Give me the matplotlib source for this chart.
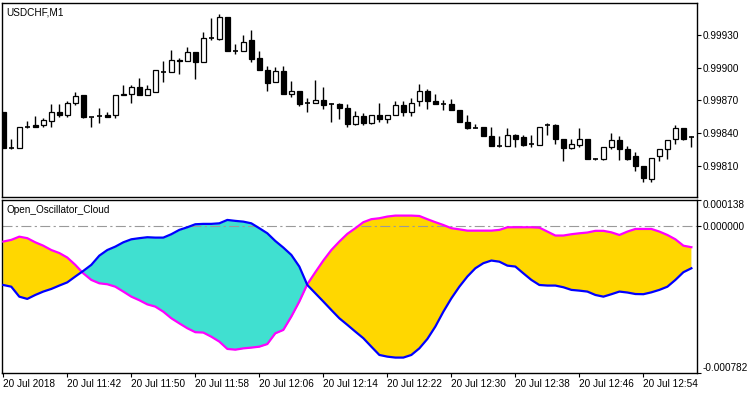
import numpy as np
import matplotlib
matplotlib.use("Agg")
import matplotlib.pyplot as plt
from matplotlib.patches import Rectangle

# USDCHF M1 candles, 11:34 .. 13:00
opens = [0.99859, 0.99826, 0.99826, 0.99846, 0.99847, 0.99847, 0.99851, 0.99859, 0.99857, 0.99868,
         0.99875, 0.99855, 0.99856, 0.99857, 0.99857, 0.99875, 0.99876, 0.99882, 0.99875, 0.99878,
         0.99896, 0.99896, 0.99907, 0.99906, 0.99914, 0.99905, 0.99927, 0.99926, 0.99947, 0.99915,
         0.99915, 0.99925, 0.99909, 0.99898, 0.99887, 0.99897, 0.99876, 0.99879, 0.99868, 0.99868,
         0.99870, 0.99867, 0.99867, 0.99863, 0.99848, 0.99856, 0.99849, 0.99857, 0.99853, 0.99857,
         0.99866, 0.99859, 0.99869, 0.99879, 0.99869, 0.99867, 0.99867, 0.99861, 0.99850, 0.99845,
         0.99846, 0.99837, 0.99828, 0.99828, 0.99838, 0.99836, 0.99830, 0.99829, 0.99847, 0.99847,
         0.99835, 0.99826, 0.99829, 0.99835, 0.99816, 0.99816, 0.99827, 0.99834, 0.99825, 0.99819,
         0.99810, 0.99798, 0.99819, 0.99825, 0.99835, 0.99845, 0.99836]
highs = [0.99859, 0.99835, 0.99846, 0.99851, 0.99856, 0.99854, 0.99867, 0.99867, 0.99869, 0.99878,
         0.99875, 0.99855, 0.99863, 0.99859, 0.99875, 0.99884, 0.99884, 0.99891, 0.99884, 0.99898,
         0.99906, 0.99916, 0.99909, 0.99919, 0.99914, 0.99933, 0.99946, 0.99949, 0.99947, 0.99922,
         0.99930, 0.99935, 0.99915, 0.99902, 0.99901, 0.99902, 0.99888, 0.99879, 0.99872, 0.99889,
         0.99882, 0.99868, 0.99868, 0.99867, 0.99860, 0.99858, 0.99857, 0.99868, 0.99857, 0.99869,
         0.99869, 0.99872, 0.99885, 0.99880, 0.99876, 0.99870, 0.99871, 0.99861, 0.99857, 0.99848,
         0.99846, 0.99846, 0.99837, 0.99845, 0.99839, 0.99838, 0.99838, 0.99846, 0.99849, 0.99848,
         0.99835, 0.99835, 0.99845, 0.99835, 0.99817, 0.99827, 0.99840, 0.99837, 0.99828, 0.99823,
         0.99810, 0.99817, 0.99825, 0.99834, 0.99847, 0.99845, 0.99837]
lows = [0.99826, 0.99825, 0.99826, 0.99845, 0.99846, 0.99846, 0.99846, 0.99855, 0.99855, 0.99866,
        0.99854, 0.99846, 0.99849, 0.99855, 0.99854, 0.99875, 0.99868, 0.99875, 0.99875, 0.99878,
        0.99887, 0.99896, 0.99894, 0.99906, 0.99890, 0.99905, 0.99925, 0.99925, 0.99915, 0.99913,
        0.99915, 0.99905, 0.99898, 0.99879, 0.99887, 0.99876, 0.99873, 0.99865, 0.99859, 0.99868,
        0.99862, 0.99850, 0.99853, 0.99846, 0.99847, 0.99847, 0.99848, 0.99850, 0.99849, 0.99857,
        0.99856, 0.99856, 0.99865, 0.99862, 0.99867, 0.99861, 0.99861, 0.99850, 0.99844, 0.99845,
        0.99837, 0.99828, 0.99827, 0.99828, 0.99827, 0.99828, 0.99827, 0.99829, 0.99838, 0.99830,
        0.99814, 0.99825, 0.99827, 0.99816, 0.99815, 0.99815, 0.99825, 0.99815, 0.99815, 0.99805,
        0.99795, 0.99795, 0.99814, 0.99816, 0.99830, 0.99834, 0.99827]
closes = [0.99826, 0.99826, 0.99846, 0.99846, 0.99846, 0.99852, 0.99859, 0.99857, 0.99868, 0.99874,
          0.99855, 0.99855, 0.99856, 0.99855, 0.99875, 0.99876, 0.99882, 0.99875, 0.99880, 0.99898,
          0.99896, 0.99907, 0.99906, 0.99914, 0.99905, 0.99927, 0.99927, 0.99947, 0.99915, 0.99915,
          0.99924, 0.99908, 0.99898, 0.99886, 0.99897, 0.99876, 0.99879, 0.99867, 0.99868, 0.99870,
          0.99866, 0.99867, 0.99863, 0.99848, 0.99856, 0.99849, 0.99857, 0.99853, 0.99857, 0.99866,
          0.99859, 0.99868, 0.99879, 0.99869, 0.99867, 0.99867, 0.99861, 0.99850, 0.99845, 0.99845,
          0.99837, 0.99828, 0.99828, 0.99838, 0.99835, 0.99829, 0.99830, 0.99846, 0.99847, 0.99835,
          0.99826, 0.99830, 0.99835, 0.99816, 0.99816, 0.99827, 0.99834, 0.99825, 0.99816, 0.99810,
          0.99799, 0.99817, 0.99825, 0.99834, 0.99845, 0.99835, 0.99836]

# oscillator buffers, in millionths
magenta_e6 = [-83, -74, -57, -65, -87, -105, -128, -144, -168, -207,
              -252, -287, -305, -310, -323, -349, -376, -395, -417, -429,
              -456, -491, -518, -544, -565, -567, -589, -615, -654, -658,
              -651, -647, -642, -628, -571, -553, -482, -402, -310, -246,
              -184, -128, -83, -42, -12, 20, 36, 41, 50, 55,
              55, 55, 53, 36, 20, 5, -12, -18, -25, -25,
              -25, -25, -21, -7, -7, -7, -7, -9, -30, -51,
              -51, -44, -39, -35, -26, -26, -34, -48, -30, -16,
              -16, -16, -30, -48, -71, -105, -113]
blue_e6 = [-314, -323, -376, -388, -367, -349, -335, -317, -300, -269,
           -239, -207, -158, -128, -110, -87, -71, -65, -60, -62,
           -62, -44, -21, -7, 9, 11, 11, 14, 32, 27,
           23, 14, -12, -39, -80, -115, -154, -216, -314, -358,
           -402, -447, -491, -526, -562, -597, -642, -686, -695, -700,
           -700, -686, -651, -601, -535, -456, -385, -323, -269, -225,
           -198, -184, -190, -211, -216, -252, -287, -314, -317, -317,
           -326, -340, -344, -349, -367, -376, -363, -349, -354, -362,
           -363, -353, -340, -323, -287, -246, -225]

price_ticks = [0.99810, 0.99840, 0.99870, 0.99900, 0.99930]
osc_ticks = [0.000138, 0.0, -0.000782]
osc_labels = ["0.000138", "0.000000", "-0.000782"]
time_labels = ["20 Jul 2018", "20 Jul 11:42", "20 Jul 11:50", "20 Jul 11:58",
               "20 Jul 12:06", "20 Jul 12:14", "20 Jul 12:22", "20 Jul 12:30",
               "20 Jul 12:38", "20 Jul 12:46", "20 Jul 12:54"]

plt.rcParams["font.family"] = ["Liberation Sans", "DejaVu Sans"]

W, H = 750, 394
fig = plt.figure(figsize=(W / 100, H / 100), dpi=100)
ax = fig.add_axes([2 / W, 1 - 197 / H, 695 / W, 194 / H])
ax2 = fig.add_axes([2 / W, 1 - 373 / H, 695 / W, 173 / H])

n = len(opens)
x = np.arange(n)
bw = 0.62

for i in range(n):
    o, h, l, c = opens[i], highs[i], lows[i], closes[i]
    ax.vlines(i, l, h, color="black", linewidth=1.0, zorder=1)
    if abs(c - o) < 1e-7:
        ax.hlines(o, i - bw / 2, i + bw / 2, color="black", linewidth=1.2, zorder=2)
    else:
        fc = "white" if c > o else "black"
        ax.add_patch(Rectangle((i - bw / 2, min(o, c)), bw, abs(c - o),
                               facecolor=fc, edgecolor="black", linewidth=0.9, zorder=2))

ax.set_xlim(-0.16, 86.7)
ax.set_ylim(0.997813, 0.999594)
ax.yaxis.tick_right()
ax.set_yticks(price_ticks)
ax.set_yticklabels([f"{p:.5f}" for p in price_ticks])
ax.set_xticks([])
ax.tick_params(axis="y", length=3, width=0.8, pad=1, labelsize=7.2)
ax.text(0.006, 0.975, "USDCHF,M1", transform=ax.transAxes, ha="left", va="top", fontsize=7.2)

m = np.array(magenta_e6) * 1e-6
b = np.array(blue_e6) * 1e-6
ax2.fill_between(x, m, b, where=m >= b, interpolate=True, color="#FFD700", linewidth=0, zorder=1)
ax2.fill_between(x, m, b, where=b > m, interpolate=True, color="#40E0D0", linewidth=0, zorder=1)
ax2.axhline(0, color="#9a9a9a", linewidth=0.8, linestyle=(0, (9, 3, 2, 3)), zorder=2)
ax2.plot(x, m, color="#FF00FF", linewidth=1.6, zorder=3)
ax2.plot(x, b, color="#0000FF", linewidth=1.6, zorder=4)

ax2.set_xlim(-0.16, 86.7)
ax2.set_ylim(-0.000782, 0.000138)
ax2.yaxis.tick_right()
ax2.set_yticks(osc_ticks)
ax2.set_yticklabels(osc_labels)
ax2.tick_params(axis="y", length=3, width=0.8, pad=1, labelsize=7.2)
ylabs = ax2.get_yticklabels()
ylabs[0].set_va("top")
ylabs[2].set_va("bottom")
ax2.set_xticks(np.arange(0, n, 8)[:len(time_labels)])
ax2.set_xticklabels(time_labels, ha="left")
ax2.tick_params(axis="x", length=3, width=0.8, pad=1, labelsize=7.2)
ax2.text(0.006, 0.97, "Open_Oscillator_Cloud", transform=ax2.transAxes, ha="left", va="top", fontsize=7.2)

for a in (ax, ax2):
    for s in a.spines.values():
        s.set_linewidth(1.0)
        s.set_color("black")

fig.savefig("out.png", dpi=100)
